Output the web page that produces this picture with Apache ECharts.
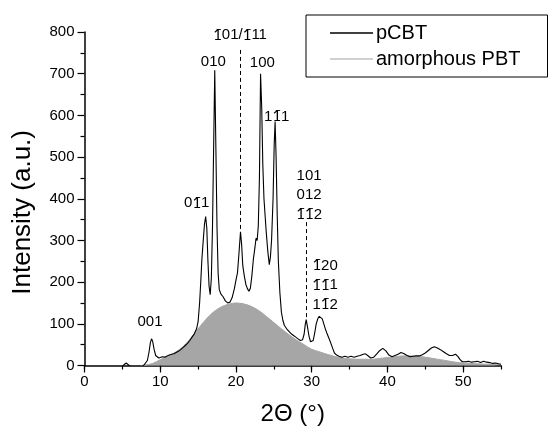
<!DOCTYPE html>
<html>
<head>
<meta charset="utf-8">
<script src="https://cdn.jsdelivr.net/npm/echarts@6/dist/echarts.min.js"></script>
<style>
html,body{margin:0;padding:0;background:#fff;}
#chart{width:551px;height:434px;}
</style>
</head>
<body>
<div id="chart"></div>
<script>
// ---- data ----
var pcbtAngle = [5.1,5.3,5.5,5.7,5.9,6.1,6.3,6.5,6.7,6.9,7.1,7.3,7.5,7.7,7.9,8.1,8.3,8.5,8.7,8.85,9.0,9.2,9.4,9.6,9.8,
  10.0,10.3,10.6,10.9,11.2,11.5,11.8,12.1,12.4,12.7,13.0,13.3,13.6,13.9,14.2,14.5,14.8,15.0,15.2,15.35,15.5,15.7,15.85,
  16.0,16.15,16.3,16.45,16.6,16.75,16.9,17.05,17.2,17.35,17.5,17.65,17.8,18.0,18.3,18.6,18.9,19.2,19.5,19.8,
  20.0,20.2,20.4,20.6,20.75,20.9,21.1,21.3,21.5,21.7,21.9,22.1,22.3,22.5,22.65,22.8,22.95,23.1,23.25,23.4,23.55,23.7,23.85,
  24.0,24.2,24.4,24.55,24.7,24.9,25.05,25.17,25.3,25.45,25.6,25.8,26.0,26.2,26.4,26.7,27.0,27.3,27.6,27.9,28.2,28.5,28.8,
  29.0,29.15,29.28,29.45,29.65,29.85,30.0,30.2,30.4,30.6,30.8,31.0,31.2,31.4,31.6,31.8,32.0,32.2,32.5,32.8,33.0,33.3,33.6,
  34.0,34.4,34.8,35.2,35.6,36.0,36.4,36.8,37.1,37.4,37.8,38.2,38.6,39.0,39.4,39.8,40.2,40.6,41.0,41.4,41.8,42.2,42.6,
  43.0,43.4,43.8,44.2,44.6,45.0,45.4,45.8,46.2,46.6,47.0,47.4,47.8,48.2,48.6,49.0,49.3,49.6,49.9,50.3,50.7,51.1,51.5,
  51.9,52.3,52.7,53.1,53.5,53.9,54.3,54.7,55.0];
var pcbtIntensity = [0,4,6,3,0,-2,-5,-6,-3,-5,-3,-2,-3,0,2,4,12,30,55,64,58,38,24,20,18,
  20,21,20,23,25,27,28,31,34,38,43,48,53,60,68,76,88,105,150,200,255,305,340,
  357,330,250,190,170,210,330,520,708,520,330,220,182,172,165,155,150,152,163,185,
  205,222,270,321,290,240,215,195,185,178,185,215,255,282,305,300,335,450,700,620,480,400,360,
  320,275,242,260,300,400,530,585,500,360,250,175,128,108,96,88,82,76,72,68,64,60,62,
  75,98,110,92,70,57,53,60,78,100,112,118,119,112,100,88,78,69,55,40,30,25,22,
  20,22,20,22,20,22,24,27,28,24,18,20,28,36,41,35,25,21,24,27,31,28,24,
  21,22,23,23,26,30,36,42,45,42,38,33,28,24,24,27,22,14,9,9,10,8,9,
  10,7,10,8,7,5,6,4,3];

var amorphAngle = [7.5,8,9,10,11,12,13,14,15,16,17,18,19,20,21,22,23,24,25,26,27,28,29,30,31,32,33,34,35,36,37,38,39,40,
  41,42,43,44,45,46,47,48,49,50,51,52,53,54,55];
var amorphIntensity = [0,1,5,14,22,32,45,65,88,110,128,140,147,150,148,142,132,118,103,88,74,61,50,39,33,27,22,18,16,15,15,15,17,19,
  21,23,23,22,20,17,14,11,8,6,5,4,3,3,2];

var seriesNames = ['pCBT', 'amorphous PBT'];

var xTicks = [0,10,20,30,40,50];

var B = '1\u0304'; // 1 with overbar
var peakLabels = ['001', '0' + B + '1', '010', B + '01/' + B + '11', '100', '1' + B + '1',
  '101\n012\n' + B + B + '2', B + '20\n' + B + B + '1\n1' + B + '2'];
var peakLabelAngle = [8.65, 14.82, 17.01, 20.54, 23.49, 25.39, 29.66, 31.77];
var peakLabelIntensity = [104, 390, 728, 793, 725, 597, 409, 193];

var dashAngle = [20.63, 29.26];
var dashTop = [757, 344];
var dashBottom = [322, 110];

// ---- build ----
function pairs(a, b){ return a.map(function(v,i){ return [v, b[i]]; }); }
var FONT = 'Liberation Sans, Arial, Helvetica, sans-serif';

var chart = echarts.init(document.getElementById('chart'), null, {renderer:'canvas'});

var labelPoints = peakLabels.map(function(t,i){
  return { coord:[peakLabelAngle[i], peakLabelIntensity[i]], value:t };
});
var dashLines = dashAngle.map(function(x,i){
  return [{coord:[x, dashTop[i]]}, {coord:[x, dashBottom[i]]}];
});
function richLabel(t){
  return t.split(B).join('{b|' + B + '}');
}

var option = {
  backgroundColor:'#fff',
  animation:false,
  textStyle:{fontFamily:FONT},
  grid:{left:84.5, right:50, top:32, bottom:68.5, containLabel:false},
  legend:{
    orient:'vertical', left:306, top:15,
    borderColor:'#000', borderWidth:1, borderRadius:0,
    padding:[8,27,8,24], itemGap:6,
    itemWidth:43, itemHeight:1.5, icon:'rect',
    textStyle:{fontSize:20, color:'#000', fontFamily:FONT, padding:[0,0,0,-2]},
    data:[
      {name:seriesNames[0], itemStyle:{color:'#000'}},
      {name:seriesNames[1], itemStyle:{color:'#c0c0c0'}}
    ]
  },
  xAxis:[{
    type:'value', min:0, max:55, interval:10,
    name:'2\u0398 (\u00b0)', nameLocation:'middle', nameGap:37,
    nameTextStyle:{fontSize:24, color:'#000', fontFamily:FONT},
    axisLine:{show:true, onZero:false, lineStyle:{color:'#000', width:1.5}},
    axisTick:{show:true, inside:false, length:7, lineStyle:{color:'#000', width:1.2}, customValues:xTicks},
    axisLabel:{color:'#000', fontSize:15, margin:9, fontFamily:FONT, customValues:xTicks},
    splitLine:{show:false}
  },{
    type:'value', min:0, max:55, interval:5, position:'bottom',
    axisLine:{show:false},
    axisTick:{show:true, inside:false, length:4, lineStyle:{color:'#000', width:1.2}},
    axisLabel:{show:false},
    splitLine:{show:false}
  }],
  yAxis:{
    type:'value', min:0, max:800, interval:100,
    axisLine:{show:true, lineStyle:{color:'#000', width:1.5}},
    axisTick:{show:true, inside:false, length:7, lineStyle:{color:'#000', width:1.2}},
    minorTick:{show:true, splitNumber:2, length:4, lineStyle:{color:'#000', width:1.2}},
    axisLabel:{color:'#000', fontSize:15, margin:10, fontFamily:FONT},
    splitLine:{show:false}
  },
  graphic:[{
    type:'text', left:10, top:130, rotation:Math.PI/2,
    style:{text:'Intensity (a.u.)', font:'26px ' + FONT, fill:'#000'},
    silent:true
  }],
  series:[{
    name:seriesNames[1], type:'line', xAxisIndex:0,
    data:pairs(amorphAngle, amorphIntensity),
    smooth:0.3, symbol:'none', showSymbol:false,
    lineStyle:{color:'#a6a6a6', width:1},
    itemStyle:{color:'#c0c0c0'},
    areaStyle:{color:'#a6a6a6', opacity:1},
    z:1
  },{
    name:seriesNames[0], type:'line', xAxisIndex:0,
    data:pairs(pcbtAngle, pcbtIntensity),
    symbol:'none', showSymbol:false,
    lineStyle:{color:'#000', width:1.1},
    itemStyle:{color:'#000'},
    z:3,
    markPoint:{
      symbol:'circle', symbolSize:0, silent:true,
      label:{show:true, position:'inside', color:'#000', fontSize:15, lineHeight:19.5, fontFamily:FONT,
        formatter:function(p){ return richLabel(p.value); },
        rich:{ b:{fontFamily:'Lato', fontSize:15, lineHeight:19.5, color:'#000'} }},
      data:labelPoints
    },
    markLine:{
      symbol:['none','none'], silent:true,
      label:{show:false},
      lineStyle:{color:'#000', type:[4,3], width:1},
      data:dashLines
    }
  }]
};
chart.setOption(option);
</script>
</body>
</html>
